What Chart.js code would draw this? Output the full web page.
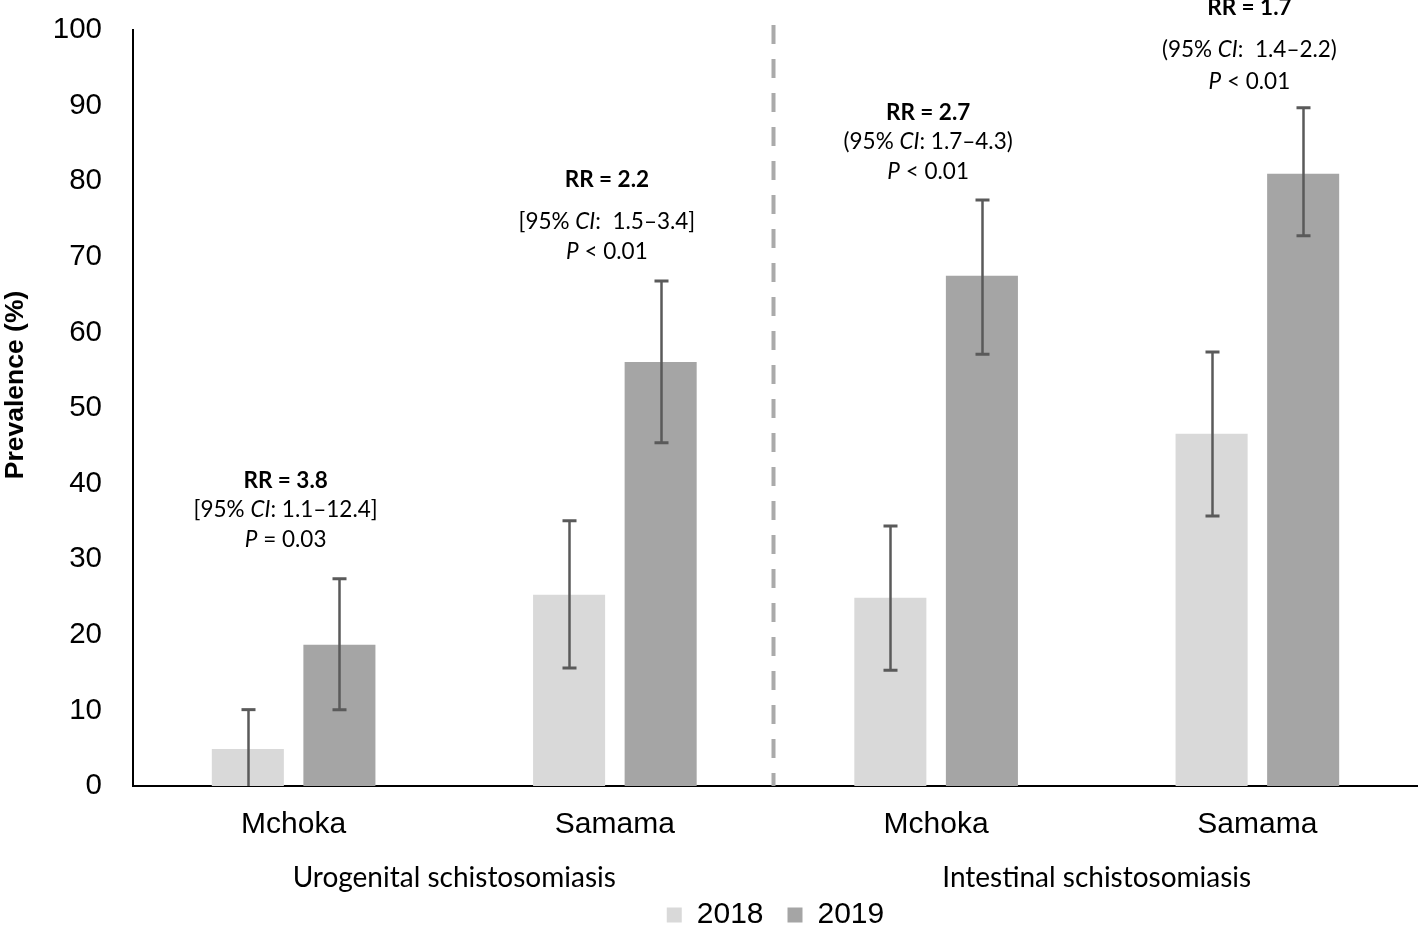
<!DOCTYPE html>
<html>
<head>
<meta charset="utf-8">
<script src="https://cdn.jsdelivr.net/npm/chart.js@4/dist/chart.umd.min.js"></script>
<style>
  html, body { margin: 0; padding: 0; background: #fff; }
  #wrap { width: 1418px; height: 927px; position: relative; }
</style>
</head>
<body>
<div id="wrap"><canvas id="c" width="1418" height="927"></canvas></div>
<script>
// ---- data ----
const categories = ['Mchoka', 'Samama', 'Mchoka', 'Samama'];
const groupLabels = ['Urogenital schistosomiasis', 'Intestinal schistosomiasis'];
const seriesNames = ['2018', '2019'];
const prev2018 = [4.9, 25.3, 24.9, 46.6];
const prev2019 = [18.7, 56.1, 67.5, 81.0];
const ci2018Low = [0, 15.6, 15.3, 35.7];
const ci2018High = [10.1, 35.1, 34.4, 57.4];
const ci2019Low = [10.1, 45.4, 57.1, 72.8];
const ci2019High = [27.4, 66.8, 77.5, 89.7];
const yTicks = [0, 10, 20, 30, 40, 50, 60, 70, 80, 90, 100];
// annotation text: each line is a list of [text, style]
const annotationTexts = [
  [[['RR = 3.8', 'bold']], [['[95% ', ''], ['CI', 'italic'], [': 1.1–12.4]', '']], [['P', 'italic'], [' = 0.03', '']]],
  [[['RR = 2.2', 'bold']], [['[95% ', ''], ['CI', 'italic'], [':  1.5–3.4]', '']], [['P', 'italic'], [' < 0.01', '']]],
  [[['RR = 2.7', 'bold']], [['(95% ', ''], ['CI', 'italic'], [': 1.7–4.3)', '']], [['P', 'italic'], [' < 0.01', '']]],
  [[['RR = 1.7', 'bold']], [['(95% ', ''], ['CI', 'italic'], [':  1.4–2.2)', '']], [['P', 'italic'], [' < 0.01', '']]]
];

// ---- styles ----
const colors = ['#d9d9d9', '#a5a5a5'];
const errColor = '#5a5a5a';
const arial = '"Liberation Sans", Arial, sans-serif';
const annFont = 'Lato, "Open Sans", sans-serif';
// line offsets (px) above the 2019 CI top, for [RR, CI, P] lines
const annOffsets = [
  [98, 69, 39],
  [101, 59, 29],
  [87, 58, 28],
  [100, 58, 26]
];

const layoutTweaks = {
  id: 'layoutTweaks',
  afterInit(chart) {
    const lg = chart.legend;
    if (!lg) return;
    const origFit = lg.fit.bind(lg);
    lg.fit = function () { origFit(); this.height -= 32; };
    const origDraw = lg.draw.bind(lg);
    lg.draw = function () {
      const t = this.top;
      this.top = t - 19;
      origDraw();
      this.top = t;
    };
  },
  afterUpdate(chart) {
    const ys = chart.scales.y;
    if (ys && !ys._titleShifted) {
      const orig = ys.drawTitle.bind(ys);
      ys.drawTitle = function () {
        const ctx = this.ctx;
        ctx.save();
        ctx.translate(0, -23);
        orig();
        ctx.restore();
      };
      ys._titleShifted = true;
    }
  }
};

const errorBars = {
  id: 'errorBars',
  afterDatasetsDraw(chart) {
    const ctx = chart.ctx;
    const y = chart.scales.y;
    const lows = [ci2018Low, ci2019Low];
    const highs = [ci2018High, ci2019High];
    ctx.save();
    ctx.strokeStyle = errColor;
    chart.data.datasets.forEach((ds, di) => {
      const meta = chart.getDatasetMeta(di);
      meta.data.forEach((bar, i) => {
        const x = Math.round(bar.x) + 0.5;
        const yl = y.getPixelForValue(lows[di][i]);
        const yh = y.getPixelForValue(highs[di][i]);
        ctx.lineWidth = 2.5;
        ctx.beginPath();
        ctx.moveTo(x, yl); ctx.lineTo(x, yh);
        ctx.stroke();
        ctx.lineWidth = 3;
        ctx.beginPath();
        ctx.moveTo(x - 7, yh); ctx.lineTo(x + 7, yh);
        if (lows[di][i] > 0) { ctx.moveTo(x - 7, yl); ctx.lineTo(x + 7, yl); }
        ctx.stroke();
      });
    });
    ctx.restore();
  },
  afterDraw(chart) {
    const ctx = chart.ctx;
    const xs = chart.scales.x;
    const y = chart.scales.y;
    const area = chart.chartArea;
    // divider
    const xd = (xs.getPixelForValue(1) + xs.getPixelForValue(2)) / 2 - 2;
    ctx.save();
    ctx.strokeStyle = '#aaaaaa';
    ctx.lineWidth = 4;
    ctx.setLineDash([19, 15]);
    ctx.beginPath();
    ctx.moveTo(xd, area.top - 5);
    ctx.lineTo(xd, area.bottom);
    ctx.stroke();
    ctx.restore();
    // annotations
    ctx.save();
    ctx.fillStyle = '#000';
    ctx.textBaseline = 'middle';
    annotationTexts.forEach((lines, i) => {
      const cx = xs.getPixelForValue(i) - 8;
      const top = y.getPixelForValue(ci2019High[i]);
      lines.forEach((segs, li) => {
        const ly = top - annOffsets[i][li];
        const fonts = segs.map(s => (s[1] === 'bold' ? 'bold ' : s[1] === 'italic' ? 'italic ' : '') + '22.5px ' + annFont);
        let w = 0;
        segs.forEach((s, k) => { ctx.font = fonts[k]; w += ctx.measureText(s[0]).width; });
        let x = cx - w / 2;
        segs.forEach((s, k) => {
          ctx.font = fonts[k];
          ctx.textAlign = 'left';
          ctx.fillText(s[0], x, ly);
          x += ctx.measureText(s[0]).width;
        });
      });
    });
    ctx.restore();
  }
};

new Chart(document.getElementById('c'), {
  type: 'bar',
  data: {
    labels: categories,
    datasets: [
      { label: seriesNames[0], data: prev2018, backgroundColor: colors[0], borderWidth: 0 },
      { label: seriesNames[1], data: prev2019, backgroundColor: colors[1], borderWidth: 0 }
    ]
  },
  options: {
    responsive: false,
    animation: false,
    devicePixelRatio: 1,
    layout: { padding: { top: 30, right: 0, bottom: 0, left: 0 } },
    datasets: { bar: { categoryPercentage: 0.57, barPercentage: 0.787 } },
    plugins: {
      tooltip: { enabled: false },
      legend: {
        position: 'bottom',
        fullSize: false,
        labels: {
          color: '#000',
          font: { family: arial, size: 30 },
          boxWidth: 15, boxHeight: 15,
          padding: 24
        }
      }
    },
    scales: {
      y: {
        min: 0, max: 100,
        afterBuildTicks(scale) { scale.ticks = yTicks.map(v => ({ value: v })); },
        afterFit(scale) { scale.width = 133; scale.paddingTop = 0; scale.paddingBottom = 0; },
        grid: { display: false, drawTicks: false },
        border: { display: true, color: '#000', width: 2 },
        ticks: { color: '#000', font: { family: arial, size: 29.5 }, padding: 31 },
        title: {
          display: true, text: 'Prevalence (%)', color: '#000',
          font: { family: arial, size: 26.5, weight: 'bold' },
          padding: { top: 0, bottom: 0 }
        }
      },
      x: {
        position: 'bottom',
        afterFit(scale) { scale.height = 56; },
        grid: { display: false, drawTicks: false },
        border: { display: true, color: '#000', width: 2 },
        ticks: { color: '#000', font: { family: arial, size: 30 }, padding: 21, maxRotation: 0 }
      },
      x2: {
        type: 'category',
        position: 'bottom',
        labels: groupLabels,
        offset: true,
        afterFit(scale) { scale.height = 53; },
        grid: { display: false, drawTicks: false },
        border: { display: false },
        ticks: { color: '#000', font: { family: annFont, size: 28 }, padding: 19, maxRotation: 0 }
      }
    }
  },
  plugins: [layoutTweaks, errorBars]
});
</script>
</body>
</html>
